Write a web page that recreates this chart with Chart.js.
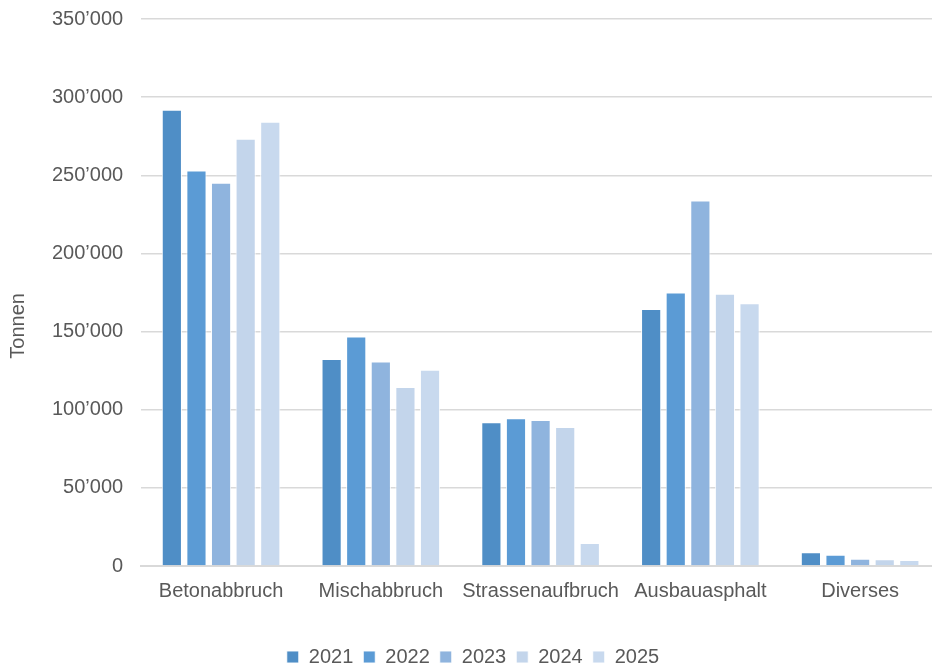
<!DOCTYPE html>
<html><head><meta charset="utf-8">
<script src="https://cdn.jsdelivr.net/npm/chart.js@4"></script>
<style>html,body{margin:0;padding:0;overflow:hidden;background:#fff;width:932px;height:670px;position:relative}#wrap{width:940px;height:688px;position:absolute;left:0;top:-11px}</style>
</head><body><div id="wrap"><canvas id="c"></canvas></div>
<script>
const categories = ['Betonabbruch','Mischabbruch','Strassenaufbruch','Ausbauasphalt','Diverses'];
const years = ['2021','2022','2023','2024','2025'];
const v2021 = [292000, 132500, 92000, 164500, 8800];
const v2022 = [253000, 146800, 94500, 175000, 7200];
const v2023 = [245300, 130800, 93400, 233800, 4700];
const v2024 = [273300, 114600, 88900, 174200, 4300];
const v2025 = [284200, 125500, 14700, 168200, 3900];
const colors = ['#4f8ec6','#5b9bd5','#8fb4de','#c3d5eb','#c8d9ee'];
const series = [v2021, v2022, v2023, v2024, v2025];
const fmt = v => String(v).replace(/\B(?=(\d{3})+(?!\d))/g, '\u2019');
Chart.defaults.font.family = '"Liberation Sans", Arial, sans-serif';
Chart.defaults.color = '#595959';
new Chart(document.getElementById('c'), {
  type: 'bar',
  data: {
    labels: categories,
    datasets: years.map((y,i)=>({label:y, data:series[i], backgroundColor:colors[i], borderColor:'rgba(255,255,255,0.9)', borderWidth:1, categoryPercentage:0.77, barPercentage:0.82}))
  },
  options: {
    responsive:true, maintainAspectRatio:false, animation:false,
    layout:{padding:{top:0,left:6,right:0,bottom:0}},
    plugins:{
      legend:{position:'bottom', labels:{boxWidth:12, boxHeight:12, font:{size:20}, padding:10, color:'#595959'}},
      tooltip:{enabled:false}
    },
    scales:{
      x:{grid:{display:false}, border:{color:'#d9d9d9', width:2}, ticks:{font:{size:20}, color:'#595959', padding:5, maxRotation:0, minRotation:0, autoSkip:false},
         afterFit:s=>{s.height += 29;}},
      y:{min:0, max:350000, ticks:{stepSize:50000, font:{size:20}, color:'#595959', padding:18, callback:v=>fmt(v)},
         grid:{color:'#d9d9d9', lineWidth:1.5, drawTicks:false}, border:{display:false},
         title:{display:true, text:'Tonnen            ', font:{size:20}, color:'#595959', padding:{top:0,bottom:4}}}
    }
  }
});
</script></body></html>
